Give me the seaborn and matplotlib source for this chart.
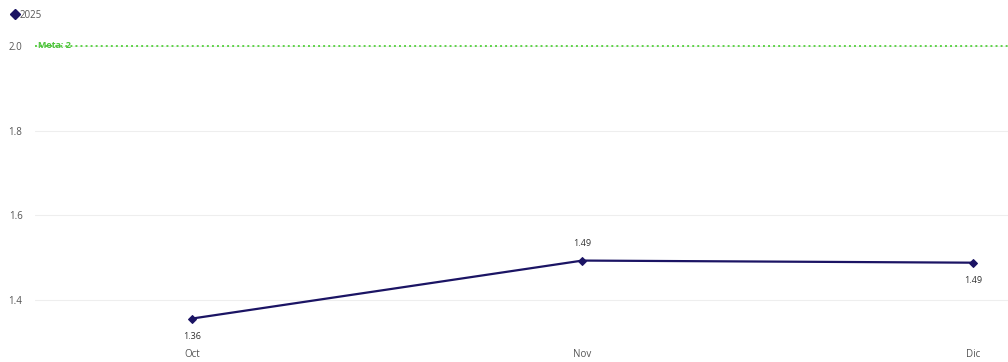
import pandas as pd
import matplotlib
matplotlib.use("Agg")
import matplotlib.pyplot as plt
import seaborn as sns
from matplotlib.lines import Line2D

months = ["Oct", "Nov", "Dic"]
values = [1.356, 1.493, 1.488]
value_labels = ["1.36", "1.49", "1.49"]
label_above = [False, True, False]
y_ticks = [1.4, 1.6, 1.8, 2.0]
goal = 2.0
series_name = "2025"

sns.set_style("white")
plt.rcParams["font.family"] = ["Open Sans", "DejaVu Sans"]

df = pd.DataFrame({"mes": months, "valor": values, "pos": range(len(months))})

fig = plt.figure(figsize=(10.08, 3.62), dpi=100)
ax = fig.add_axes([35 / 1008, 32 / 362, 1 - 35 / 1008, 290 / 362])

navy = "#1b1464"
text_col = "#555555"

sns.lineplot(data=df, x="pos", y="valor", ax=ax, color=navy, linewidth=1.6,
             marker="D", markersize=4, markeredgecolor=navy)

ax.axhline(goal, color="#5fd34a", linestyle=(0, (1, 1.6)), linewidth=1.4, zorder=1)
ax.text(0.003, goal, "Meta: 2", transform=ax.get_yaxis_transform(), color="#4cc23a",
        fontsize=6.5, fontweight="bold", va="center", ha="left")

for p, v, lab, up in zip(df["pos"], values, value_labels, label_above):
    ax.annotate(lab, (p, v), xytext=(0, 12 if up else -13), textcoords="offset points",
                ha="center", va="center", fontsize=6.5, color="#333333")

ax.set_xlim(-0.402, 2.09)
ax.set_ylim(1.329, 2.014)
ax.set_xticks(df["pos"])
ax.set_xticklabels(months)
ax.set_yticks(y_ticks)
ax.set_yticklabels([f"{t:.1f}" for t in y_ticks])
ax.tick_params(axis="x", length=0, pad=14, labelsize=7, labelcolor=text_col)
ax.tick_params(axis="y", length=0, pad=9, labelsize=7, labelcolor=text_col)
ax.set_xlabel("")
ax.set_ylabel("")
ax.grid(axis="y", color="#eeeeee", linewidth=0.8)
ax.grid(axis="x", visible=False)
sns.despine(ax=ax, left=True, bottom=True)

handle = Line2D([], [], color=navy, marker="D", linestyle="", markersize=5)
fig.legend([handle], [series_name], loc="upper left", bbox_to_anchor=(0.0, 1.0),
           frameon=False, fontsize=7, handletextpad=0.0, borderaxespad=0.6,
           handlelength=1.0, labelcolor=text_col)

fig.savefig("out.png", dpi=100)
